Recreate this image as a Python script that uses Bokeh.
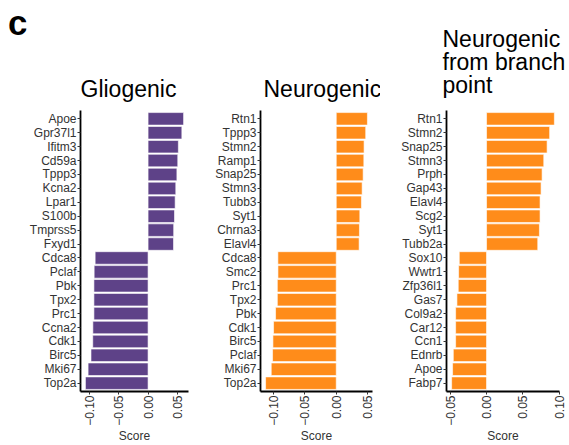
import math

from bokeh.embed import file_html
from bokeh.layouts import row
from bokeh.models import Div, FactorRange, FixedTicker, Range1d, Title
from bokeh.plotting import figure
from bokeh.resources import INLINE

# Gene scores per trajectory (top genes listed first, as drawn top-to-bottom)
gl_genes = ["Apoe", "Gpr37l1", "Ifitm3", "Cd59a", "Tppp3", "Kcna2", "Lpar1", "S100b",
            "Tmprss5", "Fxyd1", "Cdca8", "Pclaf", "Pbk", "Tpx2", "Prc1", "Ccna2",
            "Cdk1", "Birc5", "Mki67", "Top2a"]
gl_scores = [0.061, 0.058, 0.052, 0.051, 0.0495, 0.0476, 0.0465, 0.0454, 0.044, 0.0437,
             -0.0909, -0.0926, -0.093, -0.093, -0.093, -0.0948, -0.095, -0.098, -0.103, -0.1076]

ne_genes = ["Rtn1", "Tppp3", "Stmn2", "Ramp1", "Snap25", "Stmn3", "Tubb3", "Syt1",
            "Chrna3", "Elavl4", "Cdca8", "Smc2", "Prc1", "Tpx2", "Pbk", "Cdk1",
            "Birc5", "Pclaf", "Mki67", "Top2a"]
ne_scores = [0.0497, 0.047, 0.0444, 0.044, 0.0429, 0.0413, 0.0402, 0.0376, 0.037, 0.0365,
             -0.0931, -0.093, -0.094, -0.094, -0.0968, -0.100, -0.101, -0.1016, -0.1037, -0.1127]

bp_genes = ["Rtn1", "Stmn2", "Snap25", "Stmn3", "Prph", "Gap43", "Elavl4", "Scg2",
            "Syt1", "Tubb2a", "Sox10", "Wwtr1", "Zfp36l1", "Gas7", "Col9a2", "Car12",
            "Ccn1", "Ednrb", "Apoe", "Fabp7"]
bp_scores = [0.0935, 0.087, 0.0835, 0.0789, 0.0766, 0.0752, 0.0738, 0.0738, 0.0729, 0.0706,
             -0.0376, -0.0385, -0.039, -0.0408, -0.0426, -0.0426, -0.0426, -0.0458, -0.0468, -0.0481]

gl_ticks = [-0.10, -0.05, 0.00, 0.05]
ne_ticks = [-0.10, -0.05, 0.00, 0.05]
bp_ticks = [-0.05, 0.00, 0.05, 0.10]

PURPLE = "#5e4288"
ORANGE = "#ff8c1a"
FONT = "Liberation Sans"
TEXT = "#333333"
FRAME_H = 281
PAGE_H = 445
LETTER_W = 26


def tick_label(v):
    return f"{v:.2f}".replace("-", "\u2212")


def panel(title, genes, scores, color, ticks, left, fw, right, title_offset, title_standoff):
    lo = min(min(scores), 0.0)
    hi = max(max(scores), 0.0)
    pad = 0.05 * (hi - lo)
    factors = list(reversed(genes))
    p = figure(
        y_range=FactorRange(factors=factors, range_padding=0.01),
        x_range=Range1d(lo - pad, hi + pad),
        frame_width=fw, frame_height=FRAME_H,
        min_border_left=left, min_border_right=right,
        min_border_top=110, min_border_bottom=50,
        output_backend="svg", toolbar_location=None,
        title=None,
    )
    p.hbar(y=genes, left=0, right=scores, height=0.9,
           fill_color=color, line_color="white", line_alpha=0.6, line_width=1)

    # panel heading, placed directly above the plot frame
    p.add_layout(Title(text=title, text_font=FONT, text_font_size="23px",
                       text_font_style="normal", text_color="black",
                       text_line_height=0.9, align="left",
                       offset=title_offset, standoff=title_standoff), "above")

    p.xgrid.visible = False
    p.ygrid.visible = False
    p.outline_line_color = None
    p.background_fill_color = "white"
    p.border_fill_color = "white"

    for ax in (p.xaxis, p.yaxis):
        ax.axis_line_color = "black"
        ax.axis_line_width = 1.8
        ax.major_tick_line_color = TEXT
        ax.major_tick_line_width = 1
        ax.major_tick_out = 3
        ax.major_tick_in = 0
        ax.minor_tick_line_color = None
        ax.major_label_text_font = FONT
        ax.major_label_text_font_size = "12px"
        ax.major_label_text_color = TEXT
        ax.major_label_standoff = 1

    p.xaxis.ticker = FixedTicker(ticks=ticks)
    p.xaxis.major_label_overrides = {t: tick_label(t) for t in ticks}
    p.xaxis.major_label_orientation = math.pi / 2
    p.xaxis.axis_label = "Score"
    p.xaxis.axis_label_text_font = FONT
    p.xaxis.axis_label_text_font_size = "12px"
    p.xaxis.axis_label_text_font_style = "normal"
    p.xaxis.axis_label_text_color = TEXT
    p.xaxis.axis_label_standoff = 0
    return p


# figure-panel letter in its own narrow column on the left
letter = Div(
    text=("<div style=\"font-family:'Liberation Sans',Arial,sans-serif;"
          "font-size:35px;font-weight:bold;line-height:35px;color:#000;"
          "margin:0;padding:5px 0 0 8px;\">c</div>"),
    width=LETTER_W, height=PAGE_H, margin=(0, 0, 0, 0),
)

p1 = panel("Gliogenic", gl_genes, gl_scores, PURPLE, gl_ticks, 80 - LETTER_W, 108, 7, 0, 18)
p2 = panel("Neurogenic", ne_genes, ne_scores, ORANGE, ne_ticks, 65, 112, 8, 3, 18)
p3 = panel("Neurogenic\nfrom branch\npoint", bp_genes, bp_scores, ORANGE, bp_ticks, 66, 113, 10, -4, 24)

layout = row(letter, p1, p2, p3)

open("out.html", "w").write(file_html(layout, INLINE))
